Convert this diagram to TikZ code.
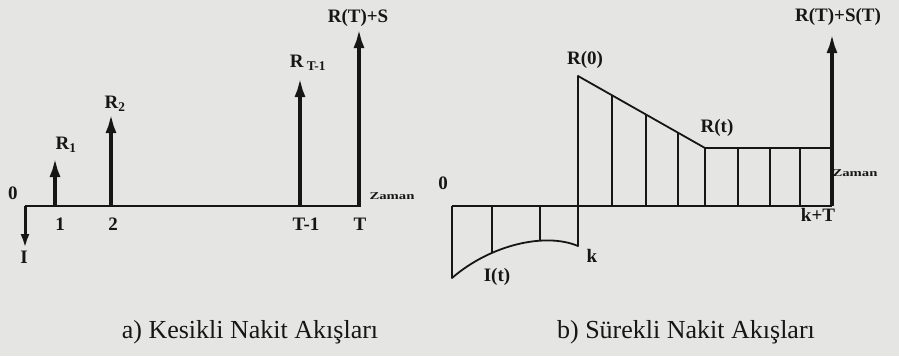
\documentclass[tikz,border=0pt]{standalone}
\usepackage{fontspec}
\setmainfont{Liberation Serif}
\usetikzlibrary{arrows.meta,positioning}
\definecolor{paper}{RGB}{229,229,227}
\definecolor{ink}{RGB}{22,22,22}
\tikzset{
  flow/.style={ink,line width=4.5pt,-{Latex[length=20pt,width=11pt]}},
  axis/.style={ink,line width=2pt},
  edge/.style={ink,line width=1.8pt,line join=round},
  lbl/.style={ink,font=\bfseries\fontsize{19}{19}\selectfont,inner sep=0pt},
  tiny/.style={ink,font=\bfseries\fontsize{10.5}{10.5}\selectfont,inner sep=0pt},
  capt/.style={ink,font=\fontsize{26}{26}\selectfont,inner sep=0pt}
}

\begin{document}
\begin{tikzpicture}[x=1pt,y=-1pt]
\fill[paper] (0,0) rectangle (899,356);
\useasboundingbox (0,0) rectangle (899,356);

% a) kesikli
\coordinate (o) at (25,206);
\coordinate (e) at (361,206);
\coordinate (inv) at (25,248);
\draw[axis] (o) -- (e);
\draw[ink,line width=3pt,-{Latex[length=14pt,width=9pt]}] (o) -- (inv);
\foreach \x/\h/\n in {55/157/1,111/113/2,300/77/3,359/28/4}{
  \coordinate (b\n) at (\x,206);
  \coordinate (h\n) at (\x,\h);
  \draw[flow] (b\n) -- (h\n);
}
\node[lbl] (zero) at (13,193) {0};
\node[lbl] (yat) at (24,257) {I};
\node[lbl] (r1) at (66,145) {R\textsubscript{1}};
\node[lbl] (r2) at (115,104) {R\textsubscript{2}};
\node[lbl] (rt1) at (308,63) {R\,\textsubscript{T-1}};
\node[lbl] (rts) at (358,18) {R(T)+S};
\node[lbl] (n1) at (60,224) {1};
\node[lbl] (n2) at (113,224) {2};
\node[lbl] (nt1) at (306,224) {T-1};
\node[lbl] (nt) at (360,224) {T};
\node[tiny] (zaman) at (392,196) {\scalebox{1.4}[1]{Zaman}};

% b) surekli
\coordinate (p) at (452,206);
\coordinate (q) at (832,206);
\coordinate (k) at (578,206);
\coordinate (top) at (832,33);
\draw[edge] (p) -- (q);
\begin{scope}
  \clip (452,206) -- (452,278) .. controls (490,245) and (545,232) .. (578,246) -- (578,206) -- cycle;
  \foreach \x in {492,540} \draw[edge] (\x,206) -- (\x,300);
\end{scope}
\begin{scope}
  \clip (578,206) -- (578,76) -- (705,148) -- (832,148) -- (832,206) -- cycle;
  \foreach \x in {612,646,678,705,738,770,800} \draw[edge] (\x,206) -- (\x,60);
\end{scope}
\draw[edge] (p) -- (452,278) .. controls (490,245) and (545,232) .. (578,246)
  -- (578,76) -- (705,148) -- (832,148);
\draw[flow] (q) -- (top);
\node[lbl] (zero2) at (443,183) {0};
\node[lbl] (kk) at (592,256) {k};
\node[lbl] (it) at (497,277) {I(t)};
\node[lbl] (r0) at (585,60) {R(0)};
\node[lbl] (rt) at (717,128) {R(t)};
\node[tiny] (zaman2) at (855,173) {\scalebox{1.4}[1]{Zaman}};
\node[lbl] (kt) at (818,215) {k+T};
\node[lbl] (rtst) at (838,17) {R(T)+S(T)};

\node[capt] (capa) at (250,332) {a) Kesikli Nakit Akışları};
\node[capt] (capb) at (686,332) {b) Sürekli Nakit Akışları};
\end{tikzpicture}
\end{document}
